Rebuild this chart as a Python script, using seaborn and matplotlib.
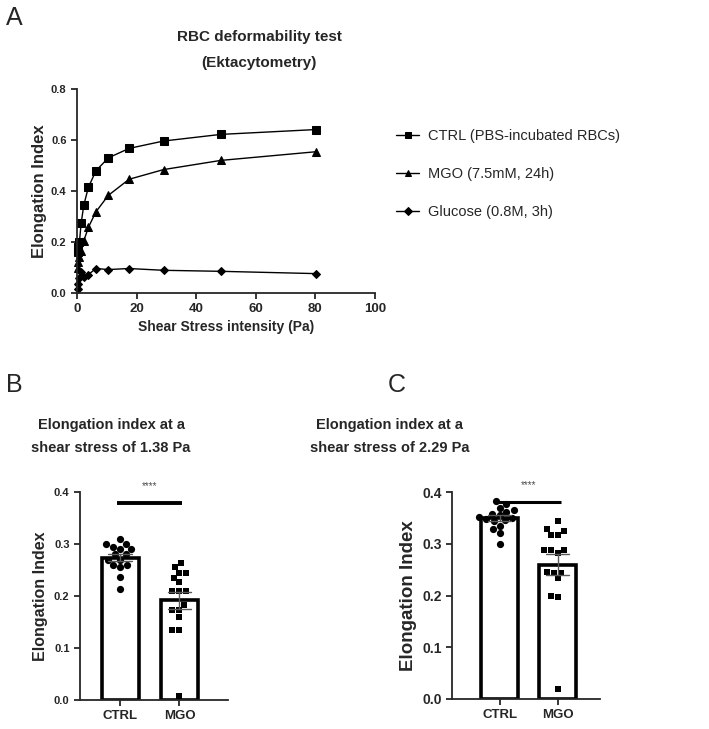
import numpy as np
import pandas as pd
import matplotlib
matplotlib.use("Agg")
import matplotlib.pyplot as plt
import seaborn as sns

sns.set_style("ticks")
plt.rcParams['font.family'] = ['Liberation Sans', 'DejaVu Sans']

# ---------------- data ----------------
shear_stress = [0.30, 0.50, 0.83, 1.38, 2.29, 3.81, 6.33, 10.52, 17.48, 29.05, 48.28, 80.22]
ctrl_ei = [0.162, 0.182, 0.201, 0.273, 0.345, 0.414, 0.479, 0.530, 0.567, 0.596, 0.622, 0.641]
mgo_ei = [0.100, 0.120, 0.140, 0.165, 0.205, 0.257, 0.318, 0.383, 0.446, 0.484, 0.520, 0.554]
glucose_ei = [0.015, 0.035, 0.060, 0.082, 0.062, 0.072, 0.096, 0.092, 0.096, 0.089, 0.085, 0.076]
series_labels = ["CTRL (PBS-incubated RBCs)", "MGO (7.5mM, 24h)", "Glucose (0.8M, 3h)"]

groups = ["CTRL", "MGO"]
b_ctrl = [0.310, 0.300, 0.300, 0.295, 0.290, 0.290, 0.280, 0.280, 0.270, 0.270,
          0.260, 0.260, 0.255, 0.237, 0.213]
b_mgo = [0.263, 0.255, 0.245, 0.245, 0.235, 0.226, 0.210, 0.210, 0.210, 0.183,
         0.174, 0.174, 0.160, 0.135, 0.135, 0.008]
c_ctrl = [0.382, 0.377, 0.370, 0.365, 0.362, 0.358, 0.355, 0.352, 0.350, 0.347,
          0.345, 0.343, 0.335, 0.328, 0.320, 0.300]
c_mgo = [0.343, 0.328, 0.324, 0.317, 0.317, 0.288, 0.287, 0.287, 0.282, 0.246,
         0.244, 0.244, 0.233, 0.199, 0.198, 0.019]

W, H = 709, 729
fig = plt.figure(figsize=(W / 100, H / 100), dpi=100)


def fa(l, t, r, b):
    return fig.add_axes([l / W, 1 - b / H, (r - l) / W, (b - t) / H])


# ---------------- panel A ----------------
df_a = pd.DataFrame({
    "stress": shear_stress * 3,
    "ei": ctrl_ei + mgo_ei + glucose_ei,
    "group": [series_labels[0]] * 12 + [series_labels[1]] * 12 + [series_labels[2]] * 12,
})
axA = fa(77, 89, 375, 293)
markers = {series_labels[0]: "s", series_labels[1]: "^", series_labels[2]: "D"}
sns.lineplot(data=df_a, x="stress", y="ei", style="group", markers=markers,
             dashes=False, color="black", linewidth=1, markersize=6,
             markeredgecolor="black", ax=axA, legend=True, clip_on=False)
for ln in axA.lines:
    if ln.get_marker() == "D":
        ln.set_markersize(4.3)
handles, labels = axA.get_legend_handles_labels()
axA.get_legend().remove()
for h in handles:
    h.set_markersize(4.5 if h.get_marker() != "D" else 4)
fig.legend(handles, labels, loc="upper left", bbox_to_anchor=(383 / W, 1 - 116 / H),
           frameon=False, fontsize=10.5, handlelength=1.6, labelspacing=1.63,
           handletextpad=0.6)
axA.set_xlim(0, 100)
axA.set_ylim(0, 0.8)
axA.set_xticks([0, 20, 40, 60, 80, 100])
axA.set_yticks([0.0, 0.2, 0.4, 0.6, 0.8])
axA.set_yticklabels(["0.0", "0.2", "0.4", "0.6", "0.8"])
axA.set_xlabel("Shear Stress intensity (Pa)", fontsize=10, fontweight="bold", labelpad=3)
axA.set_ylabel("Elongation Index", fontsize=12, fontweight="bold", labelpad=3)
axA.tick_params(axis="x", labelsize=9.5, width=1.3, length=4)
axA.tick_params(axis="y", labelsize=8, width=1.3, length=4)
for lab in axA.get_xticklabels() + axA.get_yticklabels():
    lab.set_fontweight("bold")
sns.despine(ax=axA)
for s in ["left", "bottom"]:
    axA.spines[s].set_linewidth(1.3)
fig.text(259 / W, 1 - 37 / H, "RBC deformability test", ha="center",
         va="center", fontsize=11, fontweight="bold")
fig.text(259 / W, 1 - 63 / H, "(Ektacytometry)", ha="center",
         va="center", fontsize=11, fontweight="bold")


# ---------------- panels B, C ----------------
def bar_panel(ax, ctrl, mgo, ytick_size, ylabel_size, xlim, sig_y, sig_lw):
    df = pd.DataFrame({"group": ["CTRL"] * len(ctrl) + ["MGO"] * len(mgo),
                       "ei": ctrl + mgo})
    sns.barplot(data=df, x="group", y="ei", order=groups, errorbar="se",
                capsize=0.4, width=0.63, fill=True, color="white",
                edgecolor="black", linewidth=2.6,
                err_kws={"linewidth": 1.0, "color": "0.35"}, ax=ax)
    for p in ax.patches:
        p.set_zorder(1)
        p.set_facecolor("white")
    for ln in ax.lines:
        ln.set_zorder(5)
    sns.swarmplot(data=df[df.group == "CTRL"], x="group", y="ei", order=groups,
                  color="black", marker="o", size=5.2, ax=ax, zorder=3)
    sns.swarmplot(data=df[df.group == "MGO"], x="group", y="ei", order=groups,
                  color="black", marker="s", size=4.8, ax=ax, zorder=3)
    ax.set_xlim(*xlim)
    ax.set_ylim(0, 0.4)
    ax.set_yticks([0.0, 0.1, 0.2, 0.3, 0.4])
    ax.set_yticklabels(["0.0", "0.1", "0.2", "0.3", "0.4"])
    ax.set_xlabel("")
    ax.set_ylabel("Elongation Index", fontsize=ylabel_size, fontweight="bold")
    ax.tick_params(axis="y", labelsize=ytick_size, width=1.3, length=4)
    ax.tick_params(axis="x", labelsize=9.5, width=1.3, length=4)
    for lab in ax.get_xticklabels() + ax.get_yticklabels():
        lab.set_fontweight("bold")
    sns.despine(ax=ax)
    for s in ["left", "bottom"]:
        ax.spines[s].set_linewidth(1.3)
    ax.plot([-0.05, 1.05], [sig_y, sig_y], color="black", lw=sig_lw,
            solid_capstyle="butt", clip_on=False, zorder=6)
    ax.text(0.5, sig_y + 0.022, "****", ha="center", va="bottom", fontsize=7,
            color="0.3")


axB = fa(80, 492, 228, 700)
bar_panel(axB, b_ctrl, b_mgo, 8, 11.5, (-0.68, 1.82), 0.379, 2.8)
fig.text(111 / W, 1 - 425 / H, "Elongation index at a", ha="center", va="center",
         fontsize=10.5, fontweight="bold")
fig.text(111 / W, 1 - 448 / H, "shear stress of 1.38 Pa", ha="center", va="center",
         fontsize=10.5, fontweight="bold")

axC = fa(452, 492, 600, 699)
bar_panel(axC, c_ctrl, c_mgo, 10, 13.5, (-0.82, 1.73), 0.381, 2.2)
fig.text(390 / W, 1 - 425 / H, "Elongation index at a", ha="center", va="center",
         fontsize=10.5, fontweight="bold")
fig.text(390 / W, 1 - 448 / H, "shear stress of 2.29 Pa", ha="center", va="center",
         fontsize=10.5, fontweight="bold")

# panel letters
fig.text(6 / W, 1 - 18 / H, "A", fontsize=18, ha="left", va="center")
fig.text(6 / W, 1 - 385 / H, "B", fontsize=18, ha="left", va="center")
fig.text(388 / W, 1 - 385 / H, "C", fontsize=18, ha="left", va="center")

fig.savefig("out.png", dpi=100, facecolor="white")
